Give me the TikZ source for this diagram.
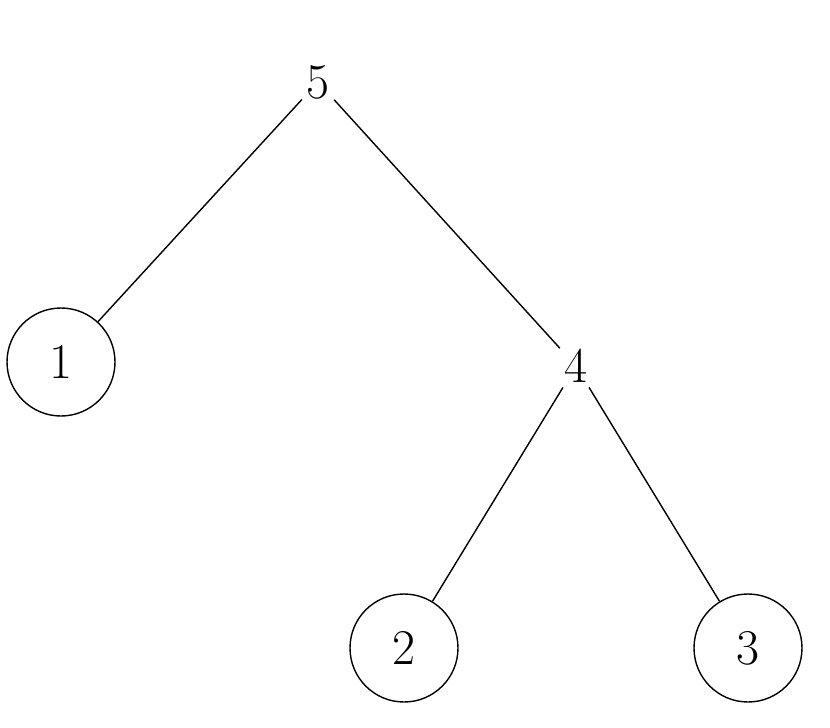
\documentclass[tikz,border=0pt]{standalone}
\begin{document}
\begin{tikzpicture}[x=1pt,y=-1pt,line width=1.4pt,
  every node/.style={font=\fontsize{50}{56}\selectfont,inner sep=4pt},
  leaf/.style={draw,circle,minimum size=108pt,inner sep=0pt}]
\useasboundingbox (0,0) rectangle (830,728);
\node (n5) at (318,82) {5};
\node (n4) at (576,366) {4};
\node[leaf] (n1) at (61,362) {1};
\node[leaf] (n2) at (404,648) {2};
\node[leaf] (n3) at (748,648) {3};
\draw (n5) -- (n1);
\draw (n5) -- (n4);
\draw (n4) -- (n2);
\draw (n4) -- (n3);
\end{tikzpicture}
\end{document}
